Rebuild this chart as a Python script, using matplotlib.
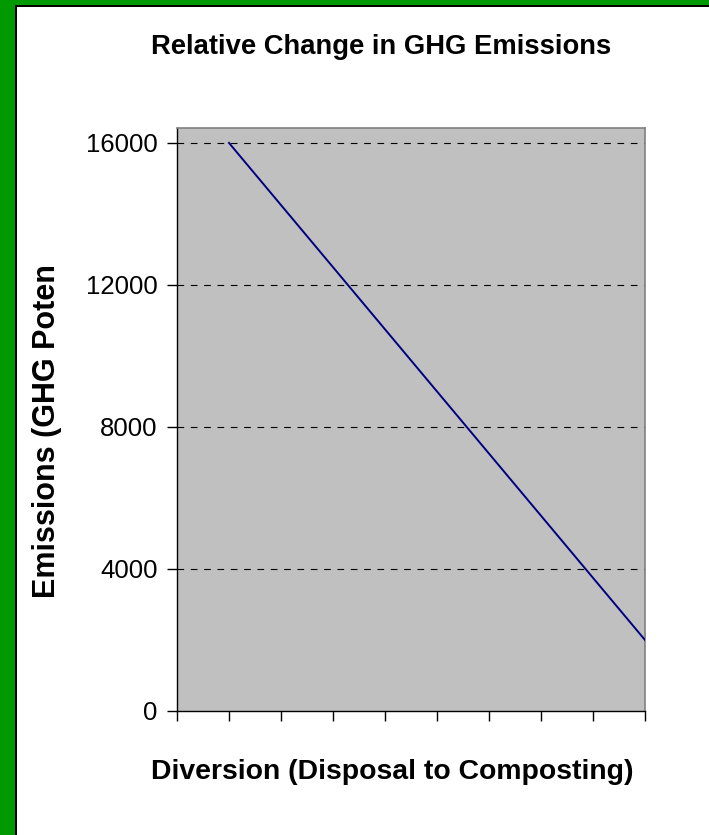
import matplotlib
matplotlib.use("Agg")
import matplotlib.pyplot as plt
from matplotlib.patches import Rectangle

# Data
x_positions = [1, 2, 3, 4, 5, 6, 7, 8, 9]
emissions = [16000, 14250, 12500, 10750, 9000, 7250, 5500, 3750, 2000]
y_ticks = [0, 4000, 8000, 12000, 16000]
y_tick_labels = ["0", "4000", "8000", "12000", "16000"]
x_ticks = [0, 1, 2, 3, 4, 5, 6, 7, 8, 9]

title = "Relative Change in GHG Emissions"
xlabel = "Diversion (Disposal to Composting)"
ylabel = "Emissions (GHG Poten"

plt.rcParams['font.family'] = ['Liberation Sans', 'DejaVu Sans']

W, H = 709, 835
fig = plt.figure(figsize=(W / 100, H / 100), dpi=100)
fig.patch.set_facecolor("white")

# Green frame (left and top) with dark inner line
green = "#009900"
fig.patches.append(Rectangle((0, 0), 15 / W, 1, transform=fig.transFigure,
                             facecolor=green, edgecolor="none", zorder=0))
fig.patches.append(Rectangle((0, 1 - 5 / H), 1, 5 / H, transform=fig.transFigure,
                             facecolor=green, edgecolor="none", zorder=0))
fig.patches.append(Rectangle((15 / W, 0), 2 / W, 1 - 5 / H, transform=fig.transFigure,
                             facecolor="black", edgecolor="none", zorder=0))
fig.patches.append(Rectangle((15 / W, 1 - 7 / H), 1 - 15 / W, 2 / H, transform=fig.transFigure,
                             facecolor="black", edgecolor="none", zorder=0))

left, right = 177 / W, 645 / W
bottom, top = 1 - 711 / H, 1 - 128 / H
ax = fig.add_axes([left, bottom, right - left, top - bottom])
ax.set_facecolor("#C0C0C0")

ax.plot(x_positions, emissions, color="#000080", linewidth=1.4, zorder=3)

ax.set_xlim(0, 9)
ax.set_ylim(0, 16420)
ax.set_yticks(y_ticks)
ax.set_yticklabels(y_tick_labels)
ax.set_xticks(x_ticks)
ax.set_xticklabels([])

for yv in y_ticks[1:]:
    ax.axhline(yv, color="black", linestyle=(0, (6, 6)), linewidth=0.8, zorder=2)

for s in ["top", "right"]:
    ax.spines[s].set_color("#808080")
    ax.spines[s].set_linewidth(1.2)
for s in ["left", "bottom"]:
    ax.spines[s].set_color("black")
    ax.spines[s].set_linewidth(1.0)

ax.tick_params(axis="y", direction="out", length=7, width=1, labelsize=18.5, pad=7)
ax.tick_params(axis="x", direction="out", length=7, width=1)

fig.text(381 / W, 1 - 47 / H, title, ha="center", va="center",
         fontsize=19.7, fontweight="bold")
fig.text(392 / W, 1 - 772 / H, xlabel, ha="center", va="center",
         fontsize=20.4, fontweight="bold")
fig.text(47 / W, 1 - 431 / H, ylabel, ha="center", va="center",
         fontsize=22, fontweight="bold", rotation=90)

fig.savefig("out.png", dpi=100, facecolor=fig.get_facecolor())
